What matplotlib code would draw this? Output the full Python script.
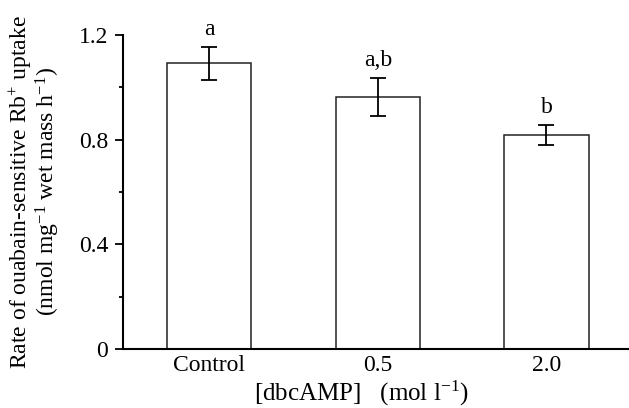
import matplotlib
matplotlib.use("Agg")
import matplotlib.pyplot as plt
from matplotlib.ticker import MultipleLocator
import numpy as np

groups = ["Control", "0.5", "2.0"]
rate = [1.092, 0.963, 0.819]
sem = [0.063, 0.071, 0.038]
letters = ["a", "a,b", "b"]

plt.rcParams["font.family"] = ["Liberation Serif", "DejaVu Serif"]
plt.rcParams["mathtext.fontset"] = "custom"
plt.rcParams["mathtext.rm"] = "Liberation Serif"
plt.rcParams["mathtext.it"] = "Liberation Serif:italic"
plt.rcParams["font.size"] = 17

fig = plt.figure(figsize=(6.29, 4.08), dpi=100)
ax = fig.add_axes([0.1963, 0.1446, 0.8037, 0.7696])

x = np.arange(len(groups))
ax.bar(x, rate, width=0.5, color="white", edgecolor="#222222", linewidth=1.1)
ax.errorbar(x, rate, yerr=sem, fmt="none", ecolor="black", elinewidth=1.3,
            capsize=5.75, capthick=1.3)

for xi, r, s, lab in zip(x, rate, sem, letters):
    ax.annotate(lab, (xi, r + s), xytext=(0, 5), textcoords="offset points",
                ha="center", va="bottom")

ax.set_xlim(-0.509, 2.49)
ax.set_ylim(0, 1.2)
ax.set_yticks([0, 0.4, 0.8, 1.2])
ax.set_yticklabels(["0", "0.4", "0.8", "1.2"])
ax.yaxis.set_minor_locator(MultipleLocator(0.2))
ax.set_xticks(x)
ax.set_xticklabels(groups)
ax.tick_params(axis="x", length=0, pad=4)
ax.tick_params(axis="y", which="major", length=6, width=1.3, pad=5)
ax.tick_params(axis="y", which="minor", length=3, width=1.3)

for side in ["top", "right"]:
    ax.spines[side].set_visible(False)
for side in ["left", "bottom"]:
    ax.spines[side].set_linewidth(1.5)

ax.set_xlabel("[dbcAMP]   (mol l$^{\\mathregular{-1}}$)", va="center", fontsize=18)
ax.xaxis.set_label_coords(0.47, -0.14)
ax.set_ylabel("Rate of ouabain-sensitive Rb$^{+}$ uptake\n(nmol mg$^{-1}$ wet mass h$^{-1}$)",
              linespacing=1.0, va="center")
ax.yaxis.set_label_coords(-0.176, 0.5)

fig.savefig("out.png", dpi=100)
